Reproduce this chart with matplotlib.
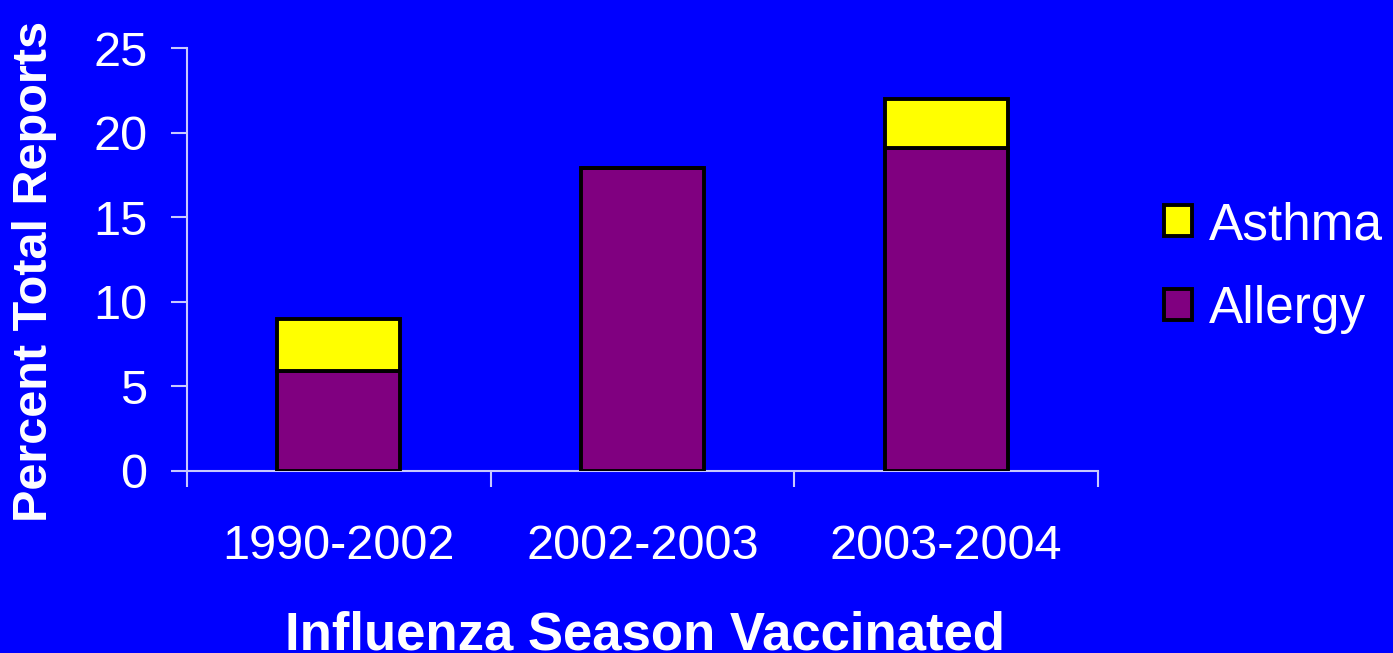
import matplotlib
matplotlib.use("Agg")
import matplotlib.pyplot as plt
import numpy as np

categories = ['1990-2002', '2002-2003', '2003-2004']
allergy = [5.9, 17.9, 19.1]
asthma = [3.1, 0.0, 2.9]
yticks = [0, 5, 10, 15, 20, 25]

plt.rcParams['font.family'] = ['Liberation Sans', 'DejaVu Sans']

W, H = 1393, 653
fig = plt.figure(figsize=(W / 100, H / 100), dpi=100)
fig.patch.set_facecolor('#0000FF')
ax = fig.add_axes([187 / W, 1 - 471 / H, (1098 - 187) / W, (471 - 48) / H])
ax.set_facecolor('#0000FF')

x = np.arange(len(categories))
bw = 0.405
axis_col = '#c8c8ff'
b1 = ax.bar(x, allergy, width=bw, color='#800080', edgecolor='black', linewidth=2.8, label='Allergy', zorder=3)
b2 = ax.bar(x, asthma, width=bw, bottom=allergy, color='#FFFF00', edgecolor='black', linewidth=2.8, label='Asthma', zorder=3)

ax.set_xlim(-0.5, len(categories) - 0.5)
ax.set_ylim(0, 25)
ax.set_yticks(yticks)
ax.set_yticklabels([str(v) for v in yticks])
ax.set_xticks(x)
ax.set_xticklabels(categories)
ax.set_xticks(np.arange(-0.5, len(categories), 1.0), minor=True)

for s in ['top', 'right']:
    ax.spines[s].set_visible(False)
for s in ['left', 'bottom']:
    ax.spines[s].set_color(axis_col)
    ax.spines[s].set_linewidth(1.5)

ax.tick_params(axis='y', which='major', length=11.5, width=1.5, color=axis_col, labelcolor='white', labelsize=35, pad=17)
ax.tick_params(axis='x', which='major', length=0, labelcolor='white', labelsize=35, pad=38)
ax.tick_params(axis='x', which='minor', length=11.5, width=1.5, color=axis_col)

fig.text(35 / W, 1 - 271 / H, 'Percent Total Reports', rotation=90, ha='center', va='center',
         color='white', fontsize=35, fontweight='bold')
fig.text(645 / W, 1 - 649 / H, 'Influenza Season Vaccinated', ha='center', va='baseline',
         color='white', fontsize=38, fontweight='bold')

leg = ax.legend(handles=[b2, b1], labels=['Asthma', 'Allergy'], loc='upper left',
                bbox_to_anchor=(1164 / W, 1 - 201 / H), bbox_transform=fig.transFigure,
                frameon=False, fontsize=37, handlelength=0.55, handleheight=0.55,
                handletextpad=0.32, labelspacing=0.68, borderaxespad=0, borderpad=0)
for t in leg.get_texts():
    t.set_color('white')

fig.savefig('out.png', dpi=100, facecolor=fig.get_facecolor())
